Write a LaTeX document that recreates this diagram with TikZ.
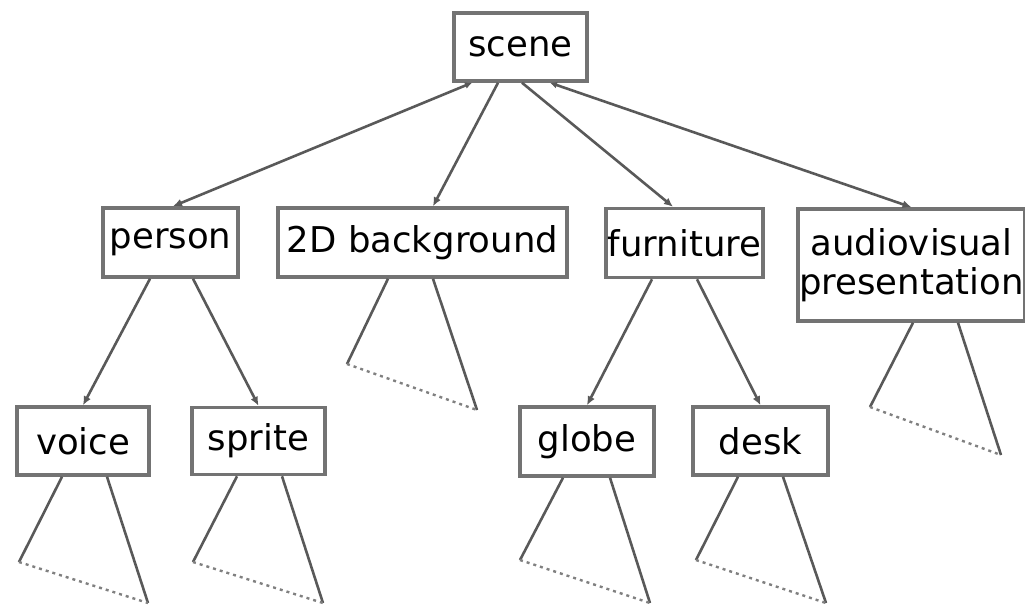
\documentclass[tikz,border=0pt]{standalone}
\usepackage{fontspec}
\setmainfont{DejaVu Sans}
\usetikzlibrary{arrows.meta}
\begin{document}
\begin{tikzpicture}[x=1pt,y=-1pt]
    \tikzstyle{box}=[draw=black!55,line width=3.5pt,fill=white,inner sep=1pt,align=center,font=\fontsize{35.5}{39}\selectfont]
    \tikzstyle{links}=[draw=black!65,line width=2.6pt]
    \tikzstyle{vectors}=[links,-{Latex[length=9pt,width=8pt]}]
    \tikzstyle{dvectors}=[links,{Latex[length=7pt,width=7pt]}-{Latex[length=9pt,width=8pt]}]
    \tikzstyle{dangling}=[draw=black!50,line width=2.4pt,dash pattern=on 3pt off 4pt]
    \useasboundingbox (0,0) rectangle (1025,606);

    \node[box,minimum width=133pt,minimum height=68pt] (scene) at (520.5,47) {scene};
    \node[box,minimum width=135pt,minimum height=69pt] (person) at (170.5,242.5) {person};
    \node[box,minimum width=289pt,minimum height=69pt] (background) at (422.5,242.5) {2D background};
    \node[box,minimum width=157pt,minimum height=69pt] (furniture) at (684.5,243) {furniture};
    \node[box,minimum width=217pt,minimum height=112pt] (av) at (911.5,265) {audiovisual\\presentation};
    \node[box,minimum width=132pt,minimum height=68pt] (voice) at (83,441) {voice};
    \node[box,minimum width=133pt,minimum height=67pt] (sprite) at (258.5,441) {sprite};
    \node[box,minimum width=134pt,minimum height=69pt] (globe) at (587,441.5) {globe};
    \node[box,minimum width=135pt,minimum height=68pt] (desk) at (760.5,441) {desk};

    \draw[dvectors] ([xshift=-48.5pt]scene.south) -- ([xshift=2.5pt]person.north);
    \draw[vectors] ([xshift=-22.5pt]scene.south) -- ([xshift=10.5pt]background.north);
    \draw[vectors] ([xshift=1.5pt]scene.south) -- ([xshift=-11.5pt]furniture.north);
    \draw[dvectors] ([xshift=29.5pt]scene.south) -- (av.north);
    \draw[vectors] ([xshift=-20.5pt]person.south) -- (voice.north);
    \draw[vectors] ([xshift=22.5pt]person.south) -- (sprite.north);
    \draw[vectors] ([xshift=-32.5pt]furniture.south) -- (globe.north);
    \draw[vectors] ([xshift=12.5pt]furniture.south) -- (desk.north);

    % subtrees left open
    \coordinate (bgl) at (347,364);  \coordinate (bgr) at (477,410);
    \coordinate (avl) at (870,407);  \coordinate (avr) at (1001,455);
    \coordinate (vol) at (19,562);   \coordinate (vor) at (148,603);
    \coordinate (spl) at (193,562);  \coordinate (spr) at (323,603);
    \coordinate (gll) at (520,560);  \coordinate (glr) at (650,603);
    \coordinate (del) at (696,560);  \coordinate (der) at (826,603);

    \draw[links] ([xshift=-34.5pt]background.south) -- (bgl);
    \draw[links] ([xshift=10.5pt]background.south) -- (bgr);
    \draw[dangling] (bgl) -- (bgr);
    \draw[links] ([xshift=1.5pt]av.south) -- (avl);
    \draw[links] ([xshift=46.5pt]av.south) -- (avr);
    \draw[dangling] (avl) -- (avr);
    \draw[links] ([xshift=-21pt]voice.south) -- (vol);
    \draw[links] ([xshift=24pt]voice.south) -- (vor);
    \draw[dangling] (vol) -- (vor);
    \draw[links] ([xshift=-21.5pt]sprite.south) -- (spl);
    \draw[links] ([xshift=23.5pt]sprite.south) -- (spr);
    \draw[dangling] (spl) -- (spr);
    \draw[links] ([xshift=-24pt]globe.south) -- (gll);
    \draw[links] ([xshift=23pt]globe.south) -- (glr);
    \draw[dangling] (gll) -- (glr);
    \draw[links] ([xshift=-22.5pt]desk.south) -- (del);
    \draw[links] ([xshift=22.5pt]desk.south) -- (der);
    \draw[dangling] (del) -- (der);
\end{tikzpicture}
\end{document}
